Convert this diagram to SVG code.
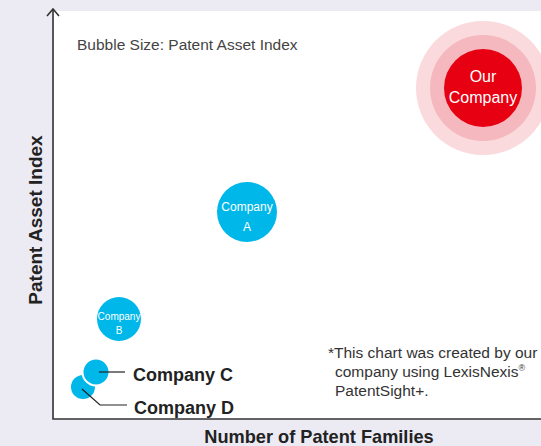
<svg xmlns="http://www.w3.org/2000/svg" width="541" height="446" viewBox="0 0 541 446">
<style>
.ax{stroke:#333;stroke-width:1.6;fill:none}
.lead{stroke:#222;stroke-width:1.2;fill:none}
.cy{fill:#00B7EA}
.wt{fill:#fff;font-family:"Liberation Sans",Arial,sans-serif;text-anchor:middle}
.lbl{fill:#222;font-family:"Liberation Sans",Arial,sans-serif;font-weight:bold}
.note{fill:#333;font-family:"Liberation Sans",Arial,sans-serif;font-size:15.5px}
</style>
<rect width="541" height="446" fill="#ECEBF4"/>
<rect x="54" y="11" width="487" height="408" fill="#fff"/>
<g id="axes">
<path class="ax" d="M53 9 V419 H541"/>
<path class="ax" d="M47 16 L53 9 L59 16"/>
<text class="lbl" font-size="19" transform="translate(42 220) rotate(-90)" text-anchor="middle">Patent Asset Index</text>
<text class="lbl" font-size="18.2" x="319" y="443" text-anchor="middle">Number of Patent Families</text>
</g>
<text x="77" y="50" font-family="Liberation Sans,Arial,sans-serif" font-size="15.5" fill="#444">Bubble Size: Patent Asset Index</text>
<g id="our-company">
<circle cx="483" cy="88" r="67" fill="#FADADD"/>
<circle cx="483" cy="88" r="53" fill="#F5B8BE"/>
<circle cx="483" cy="88" r="39" fill="#E60012"/>
<text class="wt" font-size="16" x="483" y="82">Our</text>
<text class="wt" font-size="16" x="483" y="103">Company</text>
</g>
<g id="company-a">
<circle class="cy" cx="247" cy="212" r="30"/>
<text class="wt" font-size="12" x="247" y="211">Company</text>
<text class="wt" font-size="12" x="247" y="231">A</text>
</g>
<g id="company-b">
<circle class="cy" cx="119" cy="319" r="22"/>
<text class="wt" font-size="10" x="119" y="320">Company</text>
<text class="wt" font-size="10" x="119" y="334">B</text>
</g>
<g id="company-d">
<circle class="cy" cx="83" cy="387" r="12"/>
<text class="lbl" font-size="18" x="134" y="414">Company D</text>
</g>
<g id="company-c">
<circle class="cy" cx="96" cy="372" r="13.5" stroke="#fff" stroke-width="2"/>
<text class="lbl" font-size="18" x="133" y="381">Company C</text>
</g>
<g id="connectors">
<path class="lead" d="M99 372 H125"/>
<path class="lead" d="M82 389 L100 405 H127"/>
</g>
<g id="footnote">
<text class="note" x="328" y="358">*This chart was created by our</text>
<text class="note" x="335" y="377">company using LexisNexis<tspan font-size="9" dy="-6">®</tspan></text>
<text class="note" x="335" y="396">PatentSight+.</text>
</g>
</svg>
